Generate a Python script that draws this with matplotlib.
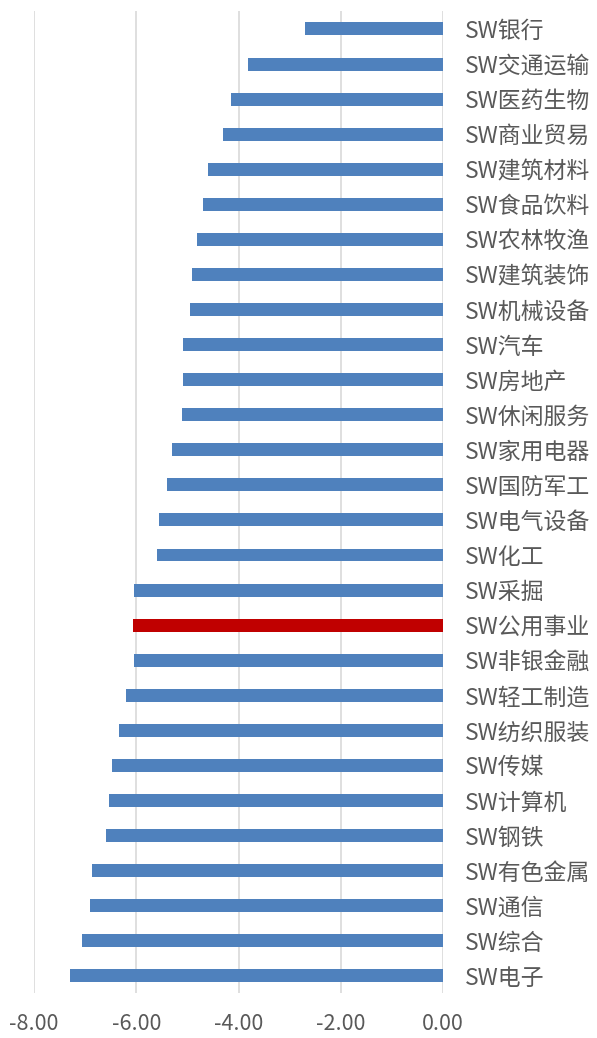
import matplotlib.pyplot as plt

plt.rcParams['font.family'] = ['Noto Sans CJK SC', 'DejaVu Sans']

# data (top to bottom as shown)
industries = ['SW银行', 'SW交通运输', 'SW医药生物', 'SW商业贸易', 'SW建筑材料', 'SW食品饮料',
              'SW农林牧渔', 'SW建筑装饰', 'SW机械设备', 'SW汽车', 'SW房地产', 'SW休闲服务',
              'SW家用电器', 'SW国防军工', 'SW电气设备', 'SW化工', 'SW采掘', 'SW公用事业',
              'SW非银金融', 'SW轻工制造', 'SW纺织服装', 'SW传媒', 'SW计算机', 'SW钢铁',
              'SW有色金属', 'SW通信', 'SW综合', 'SW电子']
values = [-2.69, -3.81, -4.15, -4.30, -4.59, -4.69, -4.82, -4.90, -4.94, -5.08, -5.09, -5.10,
          -5.31, -5.40, -5.56, -5.60, -6.04, -6.07, -6.05, -6.21, -6.33, -6.47, -6.53, -6.60,
          -6.87, -6.90, -7.07, -7.30]
highlight = 'SW公用事业'
xticks = [-8, -6, -4, -2, 0]

fig = plt.figure(figsize=(5.97, 10.38), dpi=100)
ax = fig.add_axes([0.057, 0.043, 0.685, 0.946])

colors = ['#C00000' if name == highlight else '#4F81BD' for name in industries]
ypos = list(range(len(industries)))
ax.barh(ypos, values, height=0.37, color=colors, zorder=3)

ax.set_ylim(len(industries) - 0.5, -0.5)
ax.set_xlim(-8, 0)
ax.set_xticks(xticks)
ax.set_xticklabels([f'{v:.2f}' for v in xticks], fontsize=15.5, color='#595959')
ax.set_yticks(ypos)
ax.set_yticklabels(industries, fontsize=16.5, color='#595959')
ax.yaxis.tick_right()
ax.tick_params(axis='y', length=0, pad=16)
ax.tick_params(axis='x', length=0, pad=14)

ax.grid(axis='x', color='#D9D9D9', linewidth=1.2, zorder=0)
for s in ax.spines.values():
    s.set_visible(False)

plt.savefig('out.png', dpi=100)
